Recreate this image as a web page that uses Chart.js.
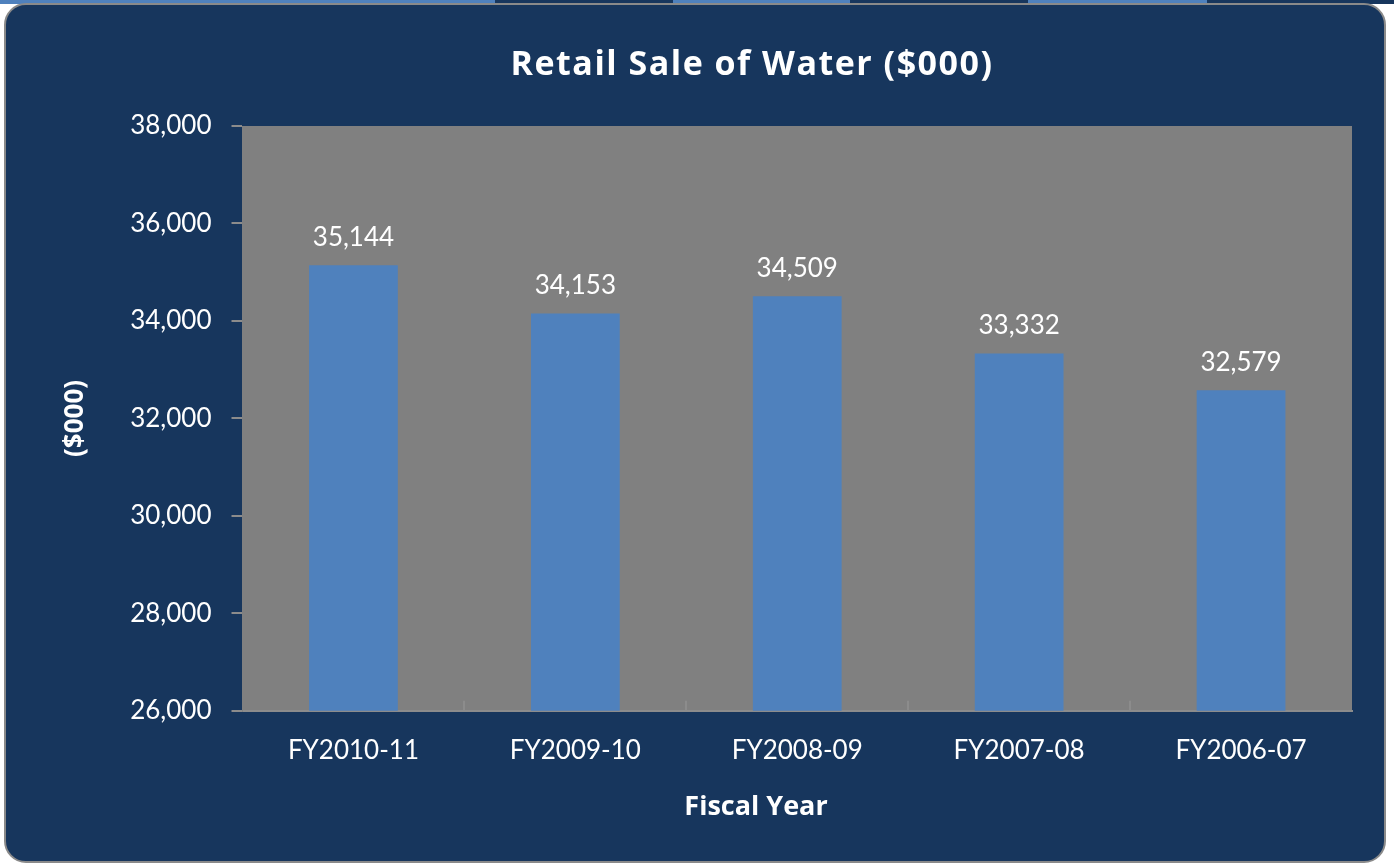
<!DOCTYPE html>
<html>
<head>
<meta charset="utf-8">
<script src="https://cdn.jsdelivr.net/npm/chart.js@4"></script>
<style>
  html, body { margin: 0; padding: 0; background: #ffffff; }
  #stripe { position: absolute; left: 0; top: 0; width: 1394px; height: 4px; display: flex; }
  #stripe div { height: 4px; }
  #card {
    position: absolute; left: 4px; top: 3px; width: 1378px; height: 856px;
    background: #17365d; border: 2px solid #8a8a8a; border-radius: 22px;
  }
  #wrap { position: absolute; left: 0; top: 0; width: 1394px; height: 867px; }
</style>
</head>
<body>
<div id="stripe">
  <div style="width:495px;background:#4f81bd"></div>
  <div style="width:178px;background:#17365d"></div>
  <div style="width:177px;background:#4f81bd"></div>
  <div style="width:178px;background:#17365d"></div>
  <div style="width:179px;background:#4f81bd"></div>
  <div style="width:187px;background:#17365d"></div>
</div>
<div id="card"></div>
<div id="wrap"><canvas id="myChart" width="1394" height="867"></canvas></div>
<script>
const years = ["FY2010-11", "FY2009-10", "FY2008-09", "FY2007-08", "FY2006-07"]
const sales = [35144, 34153, 34509, 33332, 32579]
const chartTitle = "Retail Sale of Water ($000)"
const xTitle = "Fiscal Year"

const FONT = "Lato, 'Open Sans', sans-serif"
const BOLD = "'Open Sans', Lato, sans-serif"

// gray plot area behind the bars
const plotBg = {
  id: "plotBg",
  beforeDraw(chart) {
    const a = chart.chartArea, c = chart.ctx
    c.save()
    c.fillStyle = "#808080"
    c.fillRect(a.left, a.top, a.right - a.left, a.bottom - a.top)
    c.restore()
  }
}

// titles, small inner ticks between categories, value labels
const extras = {
  id: "extras",
  afterDatasetsDraw(chart) {
    const c = chart.ctx, a = chart.chartArea
    const xs = chart.scales.x
    c.save()
    c.fillStyle = "#ffffff"
    c.font = "bold 34px " + BOLD
    c.textAlign = "center"
    c.textBaseline = "alphabetic"
    c.letterSpacing = "1.5px"
    c.fillText(chartTitle, 752, 75)
    c.letterSpacing = "0px"

    c.font = "bold 27px " + BOLD
    c.fillText(xTitle, 756, 815)

    c.strokeStyle = "#8c8c8c"
    c.lineWidth = 2
    for (let i = 1; i < years.length; i++) {
      const x = Math.round((xs.getPixelForValue(i - 1) + xs.getPixelForValue(i)) / 2)
      c.beginPath()
      c.moveTo(x, a.bottom)
      c.lineTo(x, a.bottom - 10)
      c.stroke()
    }

    c.font = "26px " + FONT
    const meta = chart.getDatasetMeta(0)
    meta.data.forEach((bar, i) => {
      c.fillText(sales[i].toLocaleString("en-US"), bar.x, bar.y - 19)
    })
    c.restore()
  }
}

window.onload = function(){
  const ctx = document.getElementById("myChart")
  new Chart(ctx, {
    type: "bar",
    data: {
      labels: years,
      datasets: [{
        label: "Retail Sale of Water",
        data: sales,
        backgroundColor: "#4f81bd",
        categoryPercentage: 1.0,
        barPercentage: 0.4
      }]
    },
    options: {
      responsive: false,
      animation: false,
      layout: { padding: { left: 56, right: 42, top: 126, bottom: 77 } },
      plugins: {
        legend: { display: false },
        title: { display: false },
        tooltip: { enabled: false }
      },
      scales: {
        x: {
          grid: { display: false, drawTicks: false },
          border: { display: true, color: "#8c8c8c", width: 2 },
          ticks: { color: "#ffffff", font: { family: FONT, size: 26 }, padding: 24 }
        },
        y: {
          min: 26000, max: 38000,
          grid: { drawOnChartArea: false, color: "#8c8c8c", lineWidth: 2, tickLength: 11 },
          border: { display: true, color: "#808080", width: 1 },
          ticks: {
            stepSize: 2000, color: "#ffffff", padding: 20,
            font: { family: FONT, size: 26 },
            callback: v => v.toLocaleString("en-US")
          },
          title: {
            display: true, text: "($000)", color: "#ffffff",
            font: { family: BOLD, size: 26, weight: "bold" }, padding: { bottom: 19 }
          }
        }
      }
    },
    plugins: [plotBg, extras]
  })
}
</script>
</body>
</html>
